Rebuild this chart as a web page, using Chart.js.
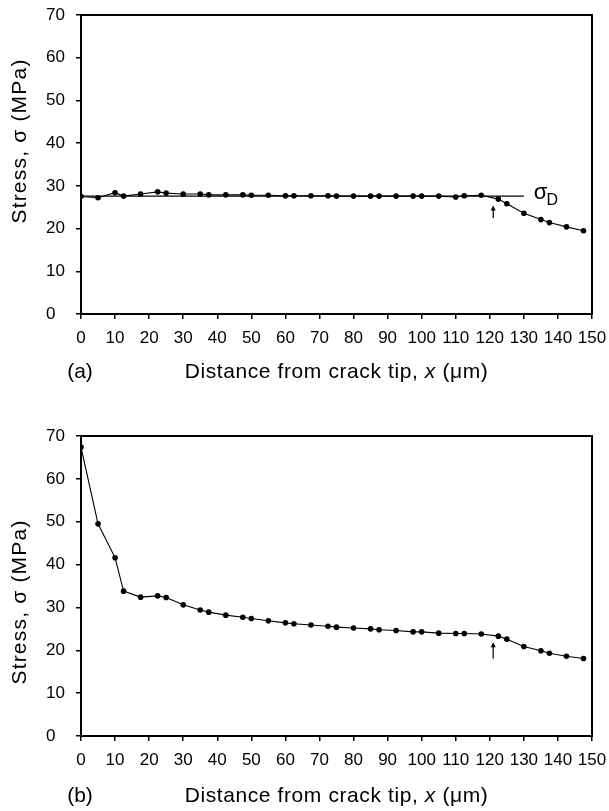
<!DOCTYPE html>
<html>
<head>
<meta charset="utf-8">
<script src="https://cdn.jsdelivr.net/npm/chart.js@4"></script>
<style>
html, body { margin: 0; padding: 0; background: #fff; }
#wrap { position: relative; width: 609px; height: 811px; }
canvas { position: absolute; left: 0; }
</style>
</head>
<body>
<div id="wrap">
  <canvas id="chartA" width="609" height="405" style="top:0"></canvas>
  <canvas id="chartB" width="609" height="406" style="top:405px"></canvas>
</div>
<script>
// distance from crack tip (um), same positions in both panels
const distance = [0, 5, 10, 12.5, 17.5, 22.5, 25, 30, 35, 37.5, 42.5, 47.5, 50, 55, 60, 62.5,
  67.5, 72.5, 75, 80, 85, 87.5, 92.5, 97.5, 100, 105, 110, 112.5, 117.5, 122.5, 125, 130,
  135, 137.5, 142.5, 147.5];

// panel (a)
const stressA = [27.5, 27.2, 28.4, 27.6, 28.1, 28.6, 28.3, 28.1, 28.1, 27.9, 27.9, 27.9, 27.8, 27.8,
  27.7, 27.7, 27.7, 27.7, 27.6, 27.6, 27.6, 27.6, 27.6, 27.6, 27.6, 27.6, 27.4, 27.7, 27.8,
  26.9, 25.8, 23.6, 22.1, 21.4, 20.4, 19.5];

// panel (b)
const stressB = [67.4, 49.5, 41.6, 33.8, 32.4, 32.7, 32.3, 30.6, 29.4, 28.9, 28.2, 27.7, 27.4, 26.9,
  26.4, 26.2, 25.9, 25.6, 25.4, 25.2, 25.0, 24.8, 24.6, 24.3, 24.3, 24.0, 23.9, 23.9, 23.8,
  23.3, 22.6, 20.9, 19.9, 19.3, 18.6, 18.1];

// sigma_D level line in panel (a)
const sigmaDX = [0, 130];
const sigmaDY = [27.6, 27.6];

// arrows marking x = 121 um
const arrowX = 121;
const arrowA = [22.4, 25.4];
const arrowB = [18.1, 21.9];

const xRange = [0, 150];
const yRange = [0, 70];

const FONT = '"Liberation Sans", Arial, Helvetica, sans-serif';

function drawSpaced(ctx, text, x, y, spacing) {
  ctx.letterSpacing = spacing + 'px';
  ctx.fillText(text, x, y);
  ctx.letterSpacing = '0px';
}

const decor = {
  id: 'decor',
  afterDraw(chart, args, o) {
    const { ctx, chartArea: a, scales: { x, y } } = chart;
    ctx.save();
    // frame
    ctx.strokeStyle = '#000';
    ctx.lineWidth = 2;
    ctx.strokeRect(a.left, a.top, a.right - a.left, a.bottom - a.top);

    // arrow
    const ax = x.getPixelForValue(arrowX);
    const y0 = y.getPixelForValue(o.arrow[0]);
    const y1 = y.getPixelForValue(o.arrow[1]);
    ctx.lineWidth = 1.2;
    ctx.beginPath();
    ctx.moveTo(ax, y0);
    ctx.lineTo(ax, y1 + 3);
    ctx.stroke();
    ctx.fillStyle = '#000';
    ctx.beginPath();
    ctx.moveTo(ax, y1);
    ctx.lineTo(ax - 2.5, y1 + 5);
    ctx.lineTo(ax + 2.5, y1 + 5);
    ctx.closePath();
    ctx.fill();

    // sigma_D label
    if (o.sigmaLabel) {
      const lx = x.getPixelForValue(sigmaDX[1]) + 10;
      const ly = y.getPixelForValue(sigmaDY[1]);
      ctx.textBaseline = 'alphabetic';
      ctx.textAlign = 'left';
      ctx.font = '22px ' + FONT;
      ctx.fillText('σ', lx, ly + 3);
      const w = ctx.measureText('σ').width;
      ctx.font = '16px ' + FONT;
      ctx.fillText('D', lx + w - 1, ly + 9);
    }

    // y title
    ctx.fillStyle = '#000';
    ctx.save();
    ctx.translate(20, o.yTitleY);
    ctx.rotate(-Math.PI / 2);
    ctx.font = '21px ' + FONT;
    ctx.textAlign = 'center';
    ctx.textBaseline = 'middle';
    drawSpaced(ctx, 'Stress, σ (MPa)', 0, 0, 1.2);
    ctx.restore();

    // x title with italic x
    const ty = a.bottom + o.xTitleOff;
    ctx.textBaseline = 'middle';
    ctx.textAlign = 'left';
    const parts = [['Distance from crack tip, ', ''], ['x', 'italic '], [' (μm)', '']];
    let total = 0;
    const sp = 0.6;
    parts.forEach(p => {
      ctx.font = p[1] + '21px ' + FONT;
      ctx.letterSpacing = sp + 'px';
      total += ctx.measureText(p[0]).width;
    });
    let cx = (a.left + a.right) / 2 - total / 2;
    parts.forEach(p => {
      ctx.font = p[1] + '21px ' + FONT;
      ctx.letterSpacing = sp + 'px';
      ctx.fillText(p[0], cx, ty);
      cx += ctx.measureText(p[0]).width;
    });
    ctx.letterSpacing = '0px';

    // panel letter
    ctx.font = '21px ' + FONT;
    ctx.textAlign = 'center';
    ctx.fillText(o.letter, 80, ty);
    ctx.restore();
  }
};

function makeChart(id, values, extra, opts) {
  const datasets = [{
    data: distance.map((d, i) => ({ x: d, y: values[i] })),
    borderColor: '#000',
    backgroundColor: '#000',
    borderWidth: 1.1,
    pointRadius: 2.8,
    pointBorderWidth: 0,
    pointBackgroundColor: '#000',
    tension: 0
  }];
  if (extra) datasets.push(extra);

  return new Chart(document.getElementById(id), {
    type: 'line',
    data: { datasets },
    options: {
      responsive: false,
      animation: false,
      events: [],
      layout: { padding: { left: 46, right: 17, top: opts.top, bottom: 0 } },
      plugins: { legend: { display: false }, tooltip: { enabled: false }, decor: opts },
      scales: {
        x: {
          type: 'linear',
          min: xRange[0], max: xRange[1],
          afterFit: s => { s.height = opts.xHeight; s.paddingLeft = 0; s.paddingRight = 0; },
          ticks: { stepSize: 10, color: '#000', padding: 9, maxRotation: 0, autoSkip: false,
            font: { family: FONT, size: 17 } },
          grid: { display: true, drawOnChartArea: false, drawTicks: true, tickLength: 5,
            color: '#000', lineWidth: 1.5 },
          border: { display: true, color: '#000', width: 2 }
        },
        y: {
          type: 'linear',
          min: yRange[0], max: yRange[1],
          afterFit: s => { s.width = 35; s.paddingTop = 0; s.paddingBottom = 0; },
          ticks: { stepSize: 10, color: '#000', crossAlign: 'far', padding: 6,
            font: { family: FONT, size: 17 } },
          grid: { display: true, drawOnChartArea: false, drawTicks: true, tickLength: 5,
            color: '#000', lineWidth: 1.5 },
          border: { display: true, color: '#000', width: 2 }
        }
      }
    },
    plugins: [decor]
  });
}

const sigmaLine = {
  data: sigmaDX.map((d, i) => ({ x: d, y: sigmaDY[i] })),
  borderColor: '#000',
  borderWidth: 1.4,
  pointRadius: 0
};

makeChart('chartA', stressA, sigmaLine, {
  top: 15, xHeight: 91, arrow: arrowA, sigmaLabel: true,
  yTitleY: 141, xTitleOff: 58, letter: '(a)'
});

makeChart('chartB', stressB, null, {
  top: 31, xHeight: 75, arrow: arrowB, sigmaLabel: false,
  yTitleY: 197, xTitleOff: 60, letter: '(b)'
});
</script>
</body>
</html>
